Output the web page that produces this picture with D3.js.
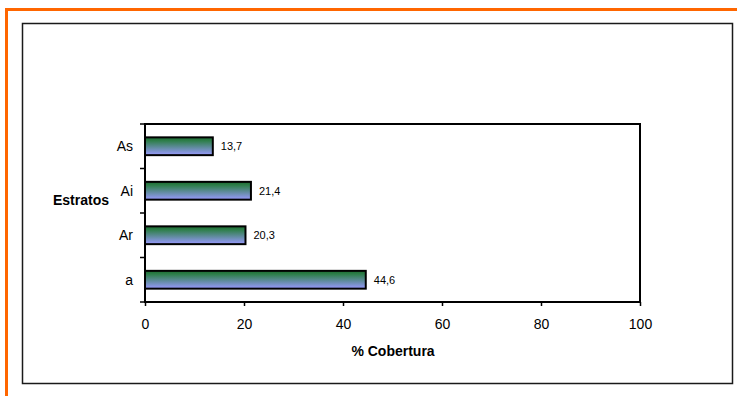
<!DOCTYPE html>
<html>
<head>
<meta charset="utf-8">
<script src="https://cdn.jsdelivr.net/npm/d3@7"></script>
<style>
  body { margin: 0; background: #fff; }
  svg { display: block; font-family: Arial, 'Liberation Sans', sans-serif; }
</style>
</head>
<body>
<div id="chart"></div>
<script>
const categories = ['As', 'Ai', 'Ar', 'a']
const values = [13.7, 21.4, 20.3, 44.6]
const xTicks = [0, 20, 40, 60, 80, 100]

const width = 737
const height = 396
const plot = { left: 145, right: 640, top: 124, bottom: 302 }

const svg = d3.select('#chart')
  .append('svg')
  .attr('width', width)
  .attr('height', height)

const defs = svg.append('defs')
const grad = defs.append('linearGradient')
  .attr('id', 'barGrad')
  .attr('x1', 0).attr('y1', 0)
  .attr('x2', 0).attr('y2', 1)
grad.append('stop').attr('offset', '0%').attr('stop-color', '#1c6b30')
grad.append('stop').attr('offset', '20%').attr('stop-color', '#2f7f4c')
grad.append('stop').attr('offset', '100%').attr('stop-color', '#9a9aff')

// orange frame (top + left)
svg.append('line')
  .attr('x1', 5).attr('x2', width)
  .attr('y1', 9.5).attr('y2', 9.5)
  .attr('stroke', '#ff6600').attr('stroke-width', 3)
svg.append('line')
  .attr('x1', 6.5).attr('x2', 6.5)
  .attr('y1', 8).attr('y2', height)
  .attr('stroke', '#ff6600').attr('stroke-width', 3)

// chart area border
svg.append('rect')
  .attr('x', 22.5).attr('y', 23.5)
  .attr('width', 710).attr('height', 360)
  .attr('fill', 'none')
  .attr('stroke', '#1a1a1a')
  .attr('stroke-width', 1.5)

const x = d3.scaleLinear()
  .domain([0, 100])
  .range([plot.left, plot.right])

const y = d3.scaleBand()
  .domain(categories)
  .range([plot.top, plot.bottom])
  .paddingInner(0.6)
  .paddingOuter(0.3)

const yAxisScale = d3.scaleBand()
  .domain(categories)
  .range([plot.top, plot.bottom])

// bars
svg.selectAll('.bar')
  .data(categories)
  .enter().append('rect')
  .attr('class', 'bar')
  .attr('x', x(0))
  .attr('y', d => y(d))
  .attr('width', (d, i) => x(values[i]) - x(0))
  .attr('height', y.bandwidth())
  .attr('fill', 'url(#barGrad)')
  .attr('stroke', '#000')
  .attr('stroke-width', 2)

// value labels
svg.selectAll('.val')
  .data(categories)
  .enter().append('text')
  .attr('class', 'val')
  .attr('x', (d, i) => x(values[i]) + 8)
  .attr('y', d => y(d) + y.bandwidth() / 2)
  .attr('dy', '0.35em')
  .attr('font-size', '11px')
  .attr('fill', '#000')
  .text((d, i) => String(values[i]).replace('.', ','))

// plot box
svg.append('rect')
  .attr('x', plot.left).attr('y', plot.top)
  .attr('width', plot.right - plot.left)
  .attr('height', plot.bottom - plot.top)
  .attr('fill', 'none')
  .attr('stroke', '#000')
  .attr('stroke-width', 2)

// x axis
const xAxis = svg.append('g')
  .attr('transform', `translate(0,${plot.bottom})`)
  .call(d3.axisBottom(x).tickValues(xTicks).tickSize(4).tickSizeOuter(0).tickPadding(13))
xAxis.select('.domain').remove()
xAxis.selectAll('line').attr('stroke', '#000').attr('stroke-width', 1.5)
xAxis.selectAll('text').attr('font-size', '14px').attr('fill', '#000')

// y axis ticks at band edges
const edges = categories.map(c => yAxisScale(c)).concat([plot.bottom])
svg.selectAll('.ytick')
  .data(edges)
  .enter().append('line')
  .attr('x1', plot.left - 5).attr('x2', plot.left)
  .attr('y1', d => d).attr('y2', d => d)
  .attr('stroke', '#000').attr('stroke-width', 1.5)

svg.selectAll('.ylab')
  .data(categories)
  .enter().append('text')
  .attr('x', plot.left - 12)
  .attr('y', d => yAxisScale(d) + yAxisScale.bandwidth() / 2)
  .attr('dy', '0.35em')
  .attr('text-anchor', 'end')
  .attr('font-size', '14px')
  .text(d => d)

// axis titles
svg.append('text')
  .attr('x', 81)
  .attr('y', 200)
  .attr('dy', '0.35em')
  .attr('text-anchor', 'middle')
  .attr('font-size', '14px')
  .attr('font-weight', 'bold')
  .text('Estratos')

svg.append('text')
  .attr('x', 393)
  .attr('y', 351)
  .attr('dy', '0.35em')
  .attr('text-anchor', 'middle')
  .attr('font-size', '14px')
  .attr('font-weight', 'bold')
  .text('% Cobertura')
</script>
</body>
</html>
